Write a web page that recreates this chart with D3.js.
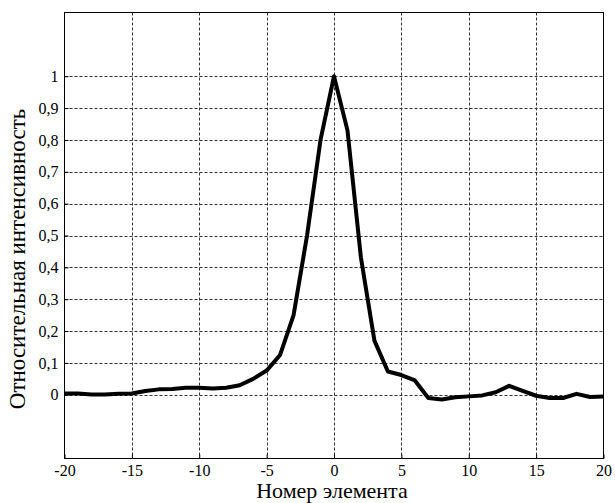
<!DOCTYPE html>
<html>
<head>
<meta charset="utf-8">
<script src="https://cdn.jsdelivr.net/npm/d3@7/dist/d3.min.js"></script>
<style>
  body { margin: 0; background: #fff; }
  text { font-family: "Liberation Serif", "Times New Roman", serif; fill: #000; }
</style>
</head>
<body>
<svg id="svg" width="615" height="503"></svg>
<script>
// номер элемента
var elements = d3.range(-20, 21);
// относительная интенсивность (по картинке)
var intensity = [0.004, 0.004, 0.001, 0.001, 0.003, 0.004, 0.012, 0.017, 0.018, 0.022,
                 0.022, 0.020, 0.022, 0.030, 0.050, 0.076, 0.125, 0.25, 0.50, 0.80,
                 1.0, 0.83, 0.43, 0.17, 0.073, 0.062, 0.045, -0.010, -0.015, -0.008,
                 -0.005, -0.002, 0.008, 0.028, 0.012, -0.003, -0.010, -0.010, 0.003, -0.007,
                 -0.005];
var xTicks = [-20, -15, -10, -5, 0, 5, 10, 15, 20];
var yTicks = [0, 0.1, 0.2, 0.3, 0.4, 0.5, 0.6, 0.7, 0.8, 0.9, 1];

var svg = d3.select("#svg");
var mLeft = 64.5, mRight = 603.5, mTop = 12.5, mBottom = 458.5;

var x = d3.scaleLinear().domain([-20, 20]).range([mLeft, mRight]);
var y = d3.scaleLinear().domain([-0.2, 1.2]).range([mBottom, mTop]);

var fmt = function (d) { return String(d).replace(".", ","); };

// сетка
var grid = svg.append("g");
grid.selectAll(".gx").data(xTicks.slice(1, -1)).enter().append("line")
    .attr("x1", function (d) { return Math.round(x(d)) + 0.5; })
    .attr("x2", function (d) { return Math.round(x(d)) + 0.5; })
    .attr("y1", mTop).attr("y2", mBottom)
    .attr("stroke", "#333").attr("stroke-dasharray", "3,2");
grid.selectAll(".gy").data(yTicks).enter().append("line")
    .attr("y1", function (d) { return Math.round(y(d)) + 0.5; })
    .attr("y2", function (d) { return Math.round(y(d)) + 0.5; })
    .attr("x1", mLeft).attr("x2", mRight)
    .attr("stroke", "#333").attr("stroke-dasharray", "3,2");

// оси
var xAxis = d3.axisBottom(x).tickValues(xTicks).tickSize(-4).tickPadding(6).tickFormat(fmt);
var yAxis = d3.axisLeft(y).tickValues(yTicks).tickSize(-4).tickPadding(6).tickFormat(fmt);

var gx = svg.append("g").attr("transform", "translate(0," + mBottom + ")").call(xAxis);
var gy = svg.append("g").attr("transform", "translate(" + mLeft + ",0)").call(yAxis);
gx.select(".domain").remove();
gy.select(".domain").remove();
gx.attr("font-family", null).attr("font-size", null);
gy.attr("font-family", null).attr("font-size", null);
svg.selectAll(".tick text")
    .style("font-family", "'Liberation Serif', serif")
    .style("font-size", "16px");

// рамка
svg.append("rect")
    .attr("x", mLeft).attr("y", mTop)
    .attr("width", mRight - mLeft).attr("height", mBottom - mTop)
    .attr("fill", "none").attr("stroke", "#000").attr("stroke-width", 1);

// кривая
var line = d3.line()
    .x(function (d, i) { return x(elements[i]); })
    .y(function (d) { return y(d); });
svg.append("path")
    .datum(intensity)
    .attr("d", line)
    .attr("fill", "none")
    .attr("stroke", "#000")
    .attr("stroke-width", 4)
    .attr("stroke-linejoin", "round");

// подписи осей
svg.append("text")
    .attr("x", 332).attr("y", 498)
    .attr("text-anchor", "middle")
    .style("font-size", "22px")
    .text("Номер элемента");
svg.append("text")
    .attr("transform", "translate(25,259) rotate(-90)")
    .attr("text-anchor", "middle")
    .style("font-size", "23px")
    .text("Относительная интенсивность");
</script>
</body>
</html>
